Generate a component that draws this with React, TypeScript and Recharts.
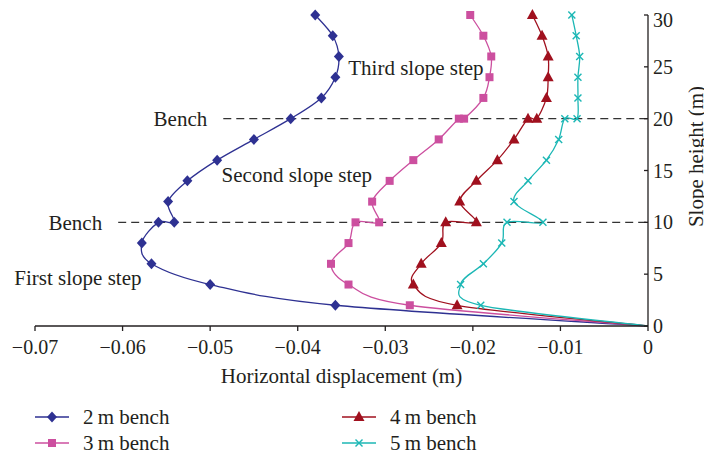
import React from "react";
import {
  LineChart,
  Line,
  XAxis,
  YAxis,
  Legend,
  ReferenceLine,
  ReferenceDot,
} from "recharts";

// slope heights (m) for each bench width, bottom to top
const HEIGHTS_2M = [0, 2, 4, 6, 8, 10, 10, 12, 14, 16, 18, 20, 22, 24, 26, 28, 30];
const HEIGHTS_3M = [0, 2, 4, 6, 8, 10, 10, 12, 14, 16, 18, 20, 20, 22, 24, 26, 28, 30];
const HEIGHTS_4M = [0, 2, 4, 6, 8, 10, 10, 12, 14, 16, 18, 20, 20, 22, 24, 26, 28, 30];
const HEIGHTS_5M = [0, 2, 4, 6, 8, 10, 10, 12, 14, 16, 18, 20, 20, 22, 24, 26, 28, 30];

// horizontal displacement (m)
const DISP_2M = [0, -0.0357, -0.05, -0.0567, -0.0578, -0.0559, -0.0541, -0.0548, -0.0526, -0.0492, -0.045, -0.0408, -0.0373, -0.0357, -0.0353, -0.036, -0.038];
const DISP_3M = [0, -0.0272, -0.0342, -0.0362, -0.0342, -0.0334, -0.0307, -0.0315, -0.0295, -0.0268, -0.0239, -0.0216, -0.021, -0.0188, -0.0181, -0.0179, -0.0188, -0.0203];
const DISP_4M = [0, -0.0218, -0.0268, -0.0259, -0.0236, -0.0231, -0.0196, -0.0215, -0.0196, -0.0172, -0.0153, -0.0137, -0.0127, -0.0116, -0.0114, -0.0114, -0.0121, -0.0132];
const DISP_5M = [0, -0.0191, -0.0214, -0.0188, -0.0167, -0.0161, -0.012, -0.0153, -0.0137, -0.0116, -0.0102, -0.0095, -0.0081, -0.008, -0.008, -0.0078, -0.0082, -0.0087];

const X_TICKS = [-0.07, -0.06, -0.05, -0.04, -0.03, -0.02, -0.01, 0];
const Y_TICKS = [0, 5, 10, 15, 20, 25, 30];

const BENCH_LEVELS = [10, 20];
const BENCH_START = [-0.0605, -0.0485]; // where the dashed lines begin

const NOTES = [
  { text: "Third slope step", x: -0.0265, y: 24.9 },
  { text: "Second slope step", x: -0.0401, y: 14.6 },
  { text: "First slope step", x: -0.0651, y: 4.7 },
];

const FONT = "'Liberation Serif', 'DejaVu Serif', serif";
const INK = "#231f20";

const toPoints = (xs: number[], ys: number[]) => xs.map((x, i) => ({ x, y: ys[i] }));

// Excel-like smoothed line (catmull-rom through every point)
function smoothCurve(context: any) {
  let pts: [number, number][] = [];
  return {
    areaStart() {},
    areaEnd() {},
    lineStart() {
      pts = [];
    },
    lineEnd() {
      const n = pts.length;
      if (!n) return;
      context.moveTo(pts[0][0], pts[0][1]);
      for (let i = 0; i < n - 1; i++) {
        const p0 = pts[Math.max(i - 1, 0)];
        const p1 = pts[i];
        const p2 = pts[i + 1];
        const p3 = pts[Math.min(i + 2, n - 1)];
        context.bezierCurveTo(
          p1[0] + (p2[0] - p0[0]) / 6,
          p1[1] + (p2[1] - p0[1]) / 6,
          p2[0] - (p3[0] - p1[0]) / 6,
          p2[1] - (p3[1] - p1[1]) / 6,
          p2[0],
          p2[1]
        );
      }
    },
    point(x: number, y: number) {
      pts.push([x, y]);
    },
  };
}

type Shape = "diamond" | "square" | "triangle" | "cross";

const Marker = ({ shape, cx, cy, color }: { shape: Shape; cx: number; cy: number; color: string }) => {
  if (shape === "diamond")
    return <polygon points={`${cx},${cy - 5.5} ${cx + 5},${cy} ${cx},${cy + 5.5} ${cx - 5},${cy}`} fill={color} />;
  if (shape === "square") return <rect x={cx - 4} y={cy - 4} width={8} height={8} fill={color} />;
  if (shape === "triangle")
    return <polygon points={`${cx},${cy - 6} ${cx + 5.5},${cy + 4} ${cx - 5.5},${cy + 4}`} fill={color} />;
  return (
    <g stroke={color} strokeWidth={1.4}>
      <line x1={cx - 3.5} y1={cy - 3.5} x2={cx + 3.5} y2={cy + 3.5} />
      <line x1={cx - 3.5} y1={cy + 3.5} x2={cx + 3.5} y2={cy - 3.5} />
    </g>
  );
};

const SERIES = [
  { name: "2\u2009m bench", color: "#2e3192", shape: "diamond" as Shape, data: toPoints(DISP_2M, HEIGHTS_2M) },
  { name: "3\u2009m bench", color: "#cc4f9f", shape: "square" as Shape, data: toPoints(DISP_3M, HEIGHTS_3M) },
  { name: "4\u2009m bench", color: "#a0101e", shape: "triangle" as Shape, data: toPoints(DISP_4M, HEIGHTS_4M) },
  { name: "5\u2009m bench", color: "#1cb7b5", shape: "cross" as Shape, data: toPoints(DISP_5M, HEIGHTS_5M) },
];

const fmtX = (v: number) => (v === 0 ? "0" : "\u2212" + Math.abs(v).toFixed(2));

const renderLegend = () => (
  <div
    style={{
      height: 56,
      display: "grid",
      gridTemplateColumns: "307px 300px",
      gridTemplateRows: "26px 26px",
      gridAutoFlow: "column",
      fontFamily: FONT,
      fontSize: 21,
      color: INK,
    }}
  >
    {SERIES.map((s) => (
      <div key={s.name} style={{ display: "flex", alignItems: "center" }}>
        <svg width={34} height={14} style={{ marginRight: 14 }}>
          <line x1={0} y1={7} x2={34} y2={7} stroke={s.color} strokeWidth={1.5} />
          <Marker shape={s.shape} cx={17} cy={7} color={s.color} />
        </svg>
        <span>{s.name}</span>
      </div>
    ))}
  </div>
);

const renderYTitle = (props: any) => {
  const vb = props.viewBox;
  const x = vb.x + 48;
  const y = vb.y + vb.height / 2 - 14;
  return (
    <text
      x={x}
      y={y}
      transform={`rotate(-90 ${x} ${y})`}
      textAnchor="middle"
      dominantBaseline="central"
      fill={INK}
      fontFamily={FONT}
      fontSize={21}
    >
      Slope height (m)
    </text>
  );
};

export default function App() {
  return (
    <LineChart width={704} height={452} margin={{ top: 7, right: 0, bottom: 0, left: 27 }}>
      <XAxis
        dataKey="x"
        type="number"
        domain={[-0.07, 0]}
        ticks={X_TICKS}
        tickFormatter={fmtX}
        height={78}
        tickSize={5}
        tickMargin={9}
        stroke={INK}
        strokeWidth={1.3}
        tick={{ fill: INK, fontFamily: FONT, fontSize: 20 }}
        label={{
          value: "Horizontal displacement (m)",
          position: "insideBottom",
          offset: 21,
          fill: INK,
          fontFamily: FONT,
          fontSize: 21,
        }}
      />
      <YAxis
        dataKey="y"
        type="number"
        orientation="right"
        domain={[0, 30]}
        ticks={Y_TICKS}
        width={64}
        tickSize={-4}
        tickMargin={9}
        stroke={INK}
        strokeWidth={1.3}
        tick={{ fill: INK, fontFamily: FONT, fontSize: 20 }}
        label={{ content: renderYTitle }}
      />
      {BENCH_LEVELS.map((lvl, i) => (
        <ReferenceLine
          key={lvl}
          segment={[
            { x: BENCH_START[i], y: lvl },
            { x: 0, y: lvl },
          ]}
          stroke="#333"
          strokeWidth={1.3}
          strokeDasharray="8 5"
          label={{ value: "Bench", position: "left", offset: 16, fill: INK, fontFamily: FONT, fontSize: 21 }}
        />
      ))}
      {NOTES.map((n) => (
        <ReferenceDot
          key={n.text}
          x={n.x}
          y={n.y}
          r={0}
          fill="none"
          stroke="none"
          label={{ value: n.text, position: "center", fill: INK, fontFamily: FONT, fontSize: 21 }}
        />
      ))}
      {SERIES.map((s) => (
        <Line
          key={s.name}
          name={s.name}
          data={s.data}
          dataKey="y"
          type={smoothCurve as any}
          stroke={s.color}
          strokeWidth={1.3}
          isAnimationActive={false}
          activeDot={false}
          dot={(p: any) =>
            p.payload.x === 0 && p.payload.y === 0 ? (
              <g key={`${s.name}-${p.index}`} />
            ) : (
              <Marker key={`${s.name}-${p.index}`} shape={s.shape} cx={p.cx} cy={p.cy} color={s.color} />
            )
          }
        />
      ))}
      <Legend verticalAlign="bottom" align="left" height={56} content={renderLegend} />
    </LineChart>
  );
}
